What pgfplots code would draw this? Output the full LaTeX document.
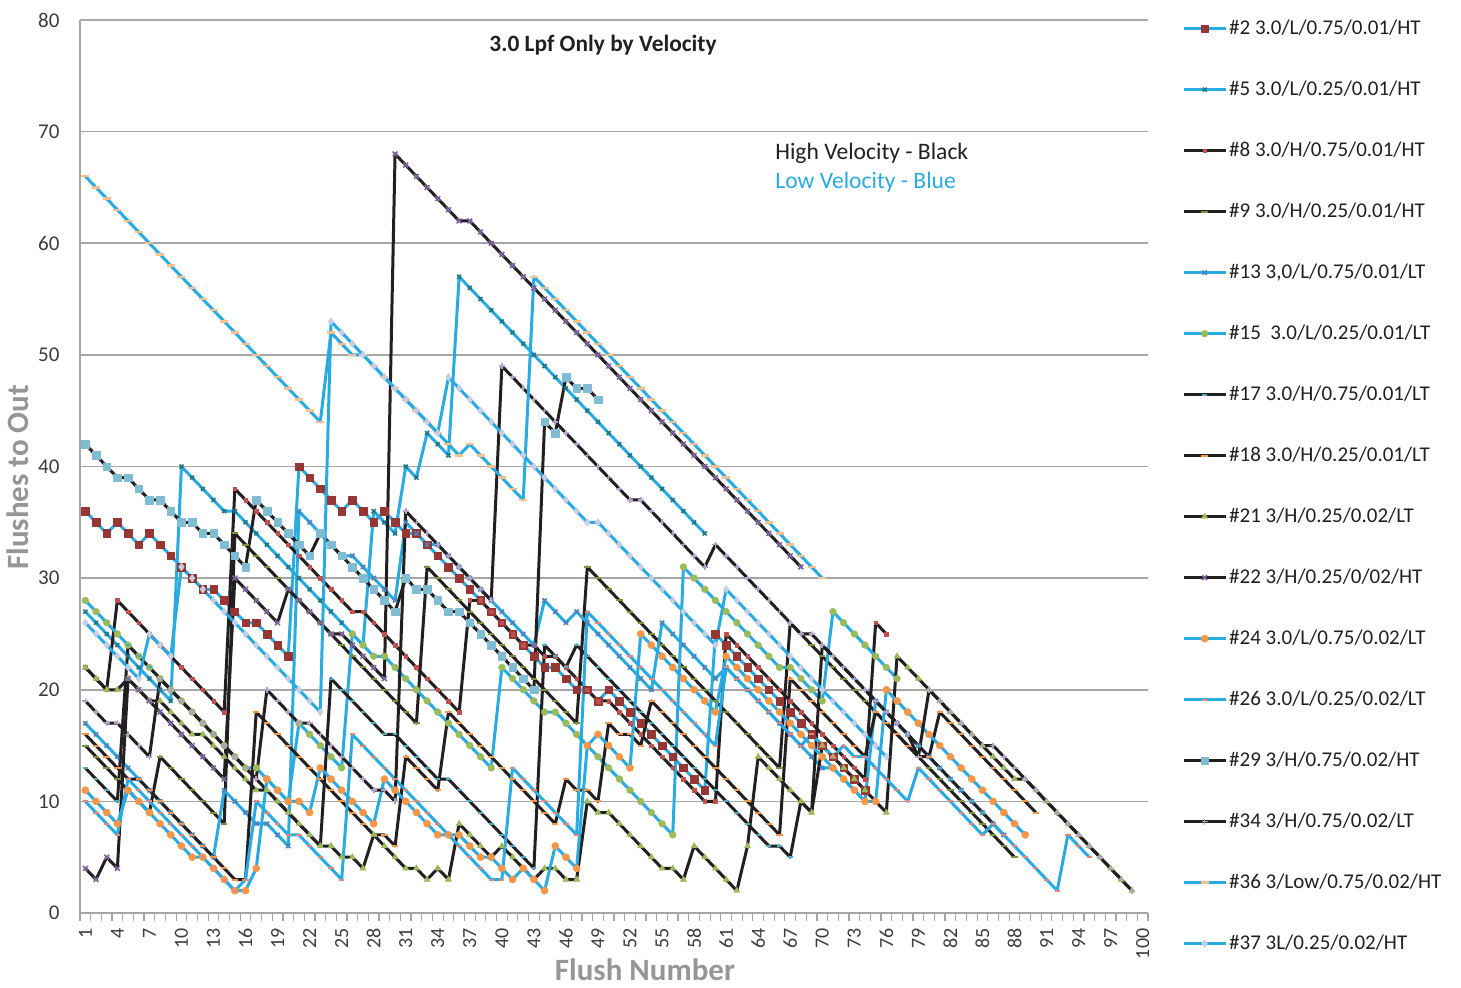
\documentclass[border=0pt]{standalone}
\usepackage{fontspec}
\setmainfont{Carlito}
\usepackage{pgfplots}
\pgfplotsset{compat=1.18}

\definecolor{blueln}{RGB}{41,171,226}
\definecolor{blackln}{RGB}{35,31,32}
\definecolor{gridc}{RGB}{166,166,166}
\definecolor{tickc}{RGB}{60,60,60}
\definecolor{titlec}{RGB}{150,150,150}
\definecolor{mkA}{RGB}{149,55,53}
\definecolor{mkB}{RGB}{33,118,133}
\definecolor{mkC}{RGB}{192,80,77}
\definecolor{mkD}{RGB}{119,147,60}
\definecolor{mkE}{RGB}{79,129,189}
\definecolor{mkF}{RGB}{155,187,89}
\definecolor{mkG}{RGB}{75,172,198}
\definecolor{mkH}{RGB}{247,150,70}
\definecolor{mkI}{RGB}{128,100,162}
\definecolor{mkJ}{RGB}{230,135,125}
\definecolor{mkK}{RGB}{128,189,210}
\definecolor{mkL}{RGB}{179,162,199}
\definecolor{mkM}{RGB}{250,192,144}
\definecolor{mkN}{RGB}{198,206,230}

\pgfplotsset{
  bl/.style={color=blueln, line width=1.5pt, line join=round},
  bk/.style={color=blackln, line width=1.5pt, line join=round},
}

\begin{document}
\begin{tikzpicture}
\useasboundingbox (-40pt,-37pt) rectangle (690.5pt,456.5pt);
\begin{axis}[
  scale only axis, width=534pt, height=446.5pt,
  xmin=0.5, xmax=100.5, ymin=0, ymax=80,
  axis x line*=bottom, axis y line*=left,
  axis line style={-, gridc, line width=0.8pt},
  xtick={1,4,...,100}, minor xtick={0.5,1.5,...,100.5},
  ytick={0,10,...,80},
  ymajorgrids, grid style={gridc, line width=0.8pt},
  major x tick style={draw=none}, ytick style={draw=none},
  minor x tick style={gridc, line width=0.6pt},
  minor tick length=4pt, tick align=outside,
  /pgf/number format/assume math mode=true,
  xticklabel style={rotate=90, anchor=east, font=\fontsize{10}{12}\selectfont, color=tickc},
  yticklabel style={font=\fontsize{10.5}{12}\selectfont, color=tickc, xshift=-2.5pt},
  xlabel={Flush Number},
  xlabel style={at={(axis description cs:0.529,0)}, anchor=center, yshift=-28.5pt,
    font=\bfseries\fontsize{15.5}{18}\selectfont, color=titlec},
  ylabel={Flushes to Out},
  ylabel style={at={(axis description cs:-0.058,0.488)}, anchor=center,
    font=\bfseries\fontsize{15.5}{18}\selectfont, color=titlec},
  legend style={at={(rel axis cs:1.026,1.007)}, anchor=north west, draw=none, fill=none,
    font=\fontsize{10.5}{12}\selectfont, text=blackln, row sep=20pt,
    nodes={inner sep=0pt, text height=8pt, text depth=2.5pt},
    /tikz/every odd column/.style={column sep=1pt}},
  legend cell align=left,
  legend image code/.code={\draw[mark repeat=2, mark phase=2] plot coordinates {(0pt,0pt) (10.5pt,0pt) (21pt,0pt)};},
]

% #2
\addplot[bl, mark=square*, mark size=1.9pt, mark options={fill=mkA, draw=mkA, line width=0.2pt}] coordinates {
(1,36)(2,35)(3,34)(4,35)(5,34)(6,33)(7,34)(8,33)(9,32)(10,31)(11,30)(12,29)(13,29)(14,28)(15,27)(16,26)(17,26)(18,25)(19,24)(20,23)(21,40)(22,39)(23,38)(24,37)(25,36)(26,37)(27,36)(28,35)(29,36)(30,35)(31,34)(32,34)(33,33)(34,32)(35,31)(36,30)(37,29)(38,28)(39,27)(40,26)(41,25)(42,24)(43,23)(44,22)(45,22)(46,21)(47,20)(48,20)(49,19)(50,20)(51,19)(52,18)(53,17)(54,16)(55,15)(56,14)(57,13)(58,12)(59,11)(60,25)(61,24)(62,23)(63,22)(64,21)(65,20)(66,19)(67,18)(68,17)(69,16)(70,15)(71,14)(72,13)(73,12)(74,11)};
\addlegendentry{\#2 3.0/L/0.75/0.01/HT}

% #5
\addplot[bl, mark=x, mark size=1.4pt, mark options={mkB, line width=0.8pt}] coordinates {
(1,27)(2,26)(3,25)(4,24)(5,23)(6,22)(7,21)(8,20)(9,19)(10,40)(11,39)(12,38)(13,37)(14,36)(15,36)(16,35)(17,34)(18,33)(19,32)(20,31)(21,30)(22,29)(23,28)(24,27)(25,26)(26,25)(27,24)(28,36)(29,35)(30,34)(31,40)(32,39)(33,43)(34,42)(35,41)(36,57)(37,56)(38,55)(39,54)(40,53)(41,52)(42,51)(43,50)(44,49)(45,48)(46,47)(47,46)(48,45)(49,44)(50,43)(51,42)(52,41)(53,40)(54,39)(55,38)(56,37)(57,36)(58,35)(59,34)};
\addlegendentry{\#5 3.0/L/0.25/0.01/HT}

% #8
\addplot[bk, mark=square*, mark size=0.9pt, mark options={fill=mkC, draw=mkC, line width=0.2pt}] coordinates {
(1,22)(2,21)(3,20)(4,28)(5,27)(6,26)(7,25)(8,24)(9,23)(10,22)(11,21)(12,20)(13,19)(14,18)(15,38)(16,37)(17,36)(18,35)(19,34)(20,33)(21,32)(22,31)(23,30)(24,29)(25,28)(26,27)(27,27)(28,26)(29,25)(30,24)(31,23)(32,22)(33,21)(34,20)(35,19)(36,18)(37,28)(38,28)(39,27)(40,26)(41,25)(42,24)(43,24)(44,23)(45,23)(46,22)(47,21)(48,20)(49,19)(50,19)(51,18)(52,17)(53,16)(54,15)(55,14)(56,13)(57,12)(58,11)(59,10)(60,10)(61,25)(62,24)(63,23)(64,22)(65,21)(66,20)(67,19)(68,18)(69,17)(70,16)(71,15)(72,14)(73,13)(74,12)(75,26)(76,25)};
\addlegendentry{\#8 3.0/H/0.75/0.01/HT}

% #9
\addplot[bk, mark=-, mark size=1.6pt, mark options={mkD, line width=1pt}] coordinates {
(1,15)(2,14)(3,13)(4,12)(5,11)(6,10)(7,9)(8,14)(9,13)(10,12)(11,11)(12,10)(13,9)(14,8)(15,34)(16,33)(17,32)(18,31)(19,30)(20,29)(21,28)(22,27)(23,26)(24,25)(25,24)(26,23)(27,22)(28,21)(29,20)(30,19)(31,18)(32,17)(33,31)(34,30)(35,29)(36,28)(37,27)(38,26)(39,25)(40,24)(41,23)(42,22)(43,21)(44,20)(45,19)(46,18)(47,17)(48,31)(49,30)(50,29)(51,28)(52,27)(53,26)(54,25)(55,24)(56,23)(57,22)(58,21)(59,20)(60,19)(61,18)(62,17)(63,16)(64,15)(65,14)(66,13)(67,26)(68,25)(69,24)(70,23)(71,22)(72,21)(73,20)(74,19)(75,18)(76,17)(77,16)(78,15)(79,14)(80,13)(81,12)(82,11)(83,10)(84,9)(85,8)(86,7)(87,6)(88,5)};
\addlegendentry{\#9 3.0/H/0.25/0.01/HT}

% #13
\addplot[bl, mark=x, mark size=1.5pt, mark options={mkE, line width=0.8pt}] coordinates {
(1,17)(2,16)(3,15)(4,14)(5,13)(6,12)(7,11)(8,10)(9,9)(10,8)(11,7)(12,6)(13,5)(14,11)(15,10)(16,9)(17,8)(18,8)(19,7)(20,6)(21,36)(22,35)(23,34)(24,33)(25,32)(26,32)(27,31)(28,30)(29,29)(30,28)(31,35)(32,34)(33,33)(34,33)(35,32)(36,31)(37,30)(38,29)(39,28)(40,27)(41,26)(42,25)(43,24)(44,28)(45,27)(46,26)(47,27)(48,26)(49,25)(50,24)(51,23)(52,22)(53,21)(54,20)(55,26)(56,25)(57,24)(58,23)(59,22)(60,21)(61,22)(62,21)(63,20)(64,19)(65,18)(66,17)(67,16)(68,15)(69,14)(70,13)(71,13)(72,12)(73,11)(74,10)(75,19)(76,18)(77,17)(78,16)(79,15)(80,14)(81,13)(82,12)(83,11)(84,10)(85,9)(86,8)(87,7)};
\addlegendentry{\#13 3,0/L/0.75/0.01/LT}

% #15
\addplot[bl, mark=*, mark size=1.7pt, mark options={fill=mkF, draw=mkF, line width=0.2pt}] coordinates {
(1,28)(2,27)(3,26)(4,25)(5,24)(6,23)(7,22)(8,21)(9,20)(10,19)(11,18)(12,17)(13,16)(14,15)(15,14)(16,13)(17,13)(18,12)(19,11)(20,10)(21,17)(22,16)(23,15)(24,14)(25,13)(26,25)(27,24)(28,23)(29,23)(30,22)(31,21)(32,20)(33,19)(34,18)(35,17)(36,16)(37,15)(38,14)(39,13)(40,22)(41,21)(42,20)(43,19)(44,18)(45,18)(46,17)(47,16)(48,15)(49,14)(50,13)(51,12)(52,11)(53,10)(54,9)(55,8)(56,7)(57,31)(58,30)(59,29)(60,28)(61,27)(62,26)(63,25)(64,24)(65,23)(66,22)(67,22)(68,21)(69,20)(70,19)(71,27)(72,26)(73,25)(74,24)(75,23)(76,22)(77,21)};
\addlegendentry{\#15\ \ 3.0/L/0.25/0.01/LT}

% #17
\addplot[bk, mark=-, mark size=1.2pt, mark options={mkG, line width=1pt}] coordinates {
(1,13)(2,12)(3,11)(4,10)(5,24)(6,23)(7,22)(8,21)(9,20)(10,19)(11,18)(12,17)(13,16)(14,15)(15,14)(16,13)(17,12)(18,11)(19,10)(20,9)(21,8)(22,7)(23,6)(24,21)(25,20)(26,19)(27,18)(28,17)(29,16)(30,16)(31,15)(32,14)(33,13)(34,12)(35,12)(36,11)(37,10)(38,9)(39,8)(40,7)(41,6)(42,5)(43,4)(44,24)(45,23)(46,22)(47,24)(48,23)(49,22)(50,21)(51,20)(52,19)(53,18)(54,17)(55,16)(56,15)(57,14)(58,13)(59,12)(60,11)(61,10)(62,9)(63,8)(64,7)(65,6)(66,6)(67,5)(68,10)(69,9)(70,24)(71,23)(72,22)(73,21)(74,20)(75,19)(76,18)(77,17)(78,16)(79,15)(80,14)(81,13)(82,12)(83,11)(84,10)(85,9)(86,8)};
\addlegendentry{\#17 3.0/H/0.75/0.01/LT}

% #18
\addplot[bk, mark=-, mark size=1.6pt, mark options={mkH, line width=1pt}] coordinates {
(1,16)(2,15)(3,14)(4,13)(5,12)(6,12)(7,11)(8,10)(9,9)(10,8)(11,7)(12,6)(13,5)(14,4)(15,3)(16,3)(17,18)(18,17)(19,16)(20,15)(21,14)(22,13)(23,12)(24,11)(25,10)(26,9)(27,8)(28,7)(29,7)(30,6)(31,14)(32,13)(33,12)(34,11)(35,18)(36,17)(37,16)(38,15)(39,14)(40,13)(41,12)(42,11)(43,10)(44,9)(45,8)(46,12)(47,11)(48,11)(49,10)(50,17)(51,16)(52,16)(53,15)(54,19)(55,18)(56,17)(57,16)(58,15)(59,14)(60,13)(61,12)(62,11)(63,10)(64,9)(65,8)(66,7)(67,21)(68,20)(69,19)(70,18)(71,17)(72,16)(73,15)(74,14)(75,18)(76,17)(77,16)(78,15)(79,14)(80,14)(81,18)(82,17)(83,16)(84,15)(85,14)(86,13)(87,12)(88,11)(89,10)(90,9)};
\addlegendentry{\#18 3.0/H/0.25/0.01/LT}

% #21
\addplot[bk, mark=triangle*, mark size=1.8pt, mark options={fill=mkF, draw=mkF, line width=0.2pt}] coordinates {
(1,22)(2,21)(3,20)(4,20)(5,21)(6,20)(7,19)(8,19)(9,18)(10,17)(11,16)(12,16)(13,15)(14,14)(15,13)(16,12)(17,11)(18,11)(19,10)(20,9)(21,8)(22,7)(23,6)(24,6)(25,5)(26,5)(27,4)(28,7)(29,6)(30,5)(31,4)(32,4)(33,3)(34,4)(35,3)(36,8)(37,7)(38,6)(39,5)(40,6)(41,5)(42,4)(43,3)(44,4)(45,4)(46,3)(47,3)(48,10)(49,9)(50,9)(51,8)(52,7)(53,6)(54,5)(55,4)(56,4)(57,3)(58,6)(59,5)(60,4)(61,3)(62,2)(63,6)(64,14)(65,13)(66,12)(67,11)(68,10)(69,9)(70,15)(71,14)(72,13)(73,12)(74,11)(75,10)(76,9)(77,23)(78,22)(79,21)(80,20)(81,19)(82,18)(83,17)(84,16)(85,15)(86,14)(87,13)(88,12)(89,12)(90,11)(91,10)(92,9)(93,8)(94,7)(95,6)(96,5)(97,4)(98,3)(99,2)};
\addlegendentry{\#21 3/H/0.25/0.02/LT}

% #22
\addplot[bk, mark=x, mark size=1.7pt, mark options={mkI, line width=0.8pt}] coordinates {
(1,4)(2,3)(3,5)(4,4)(5,21)(6,20)(7,19)(8,18)(9,17)(10,16)(11,15)(12,14)(13,13)(14,12)(15,30)(16,29)(17,28)(18,27)(19,26)(20,29)(21,28)(22,27)(23,26)(24,25)(25,25)(26,24)(27,23)(28,22)(29,21)(30,68)(31,67)(32,66)(33,65)(34,64)(35,63)(36,62)(37,62)(38,61)(39,60)(40,59)(41,58)(42,57)(43,56)(44,55)(45,54)(46,53)(47,52)(48,51)(49,50)(50,49)(51,48)(52,47)(53,46)(54,45)(55,44)(56,43)(57,42)(58,41)(59,40)(60,39)(61,38)(62,37)(63,36)(64,35)(65,34)(66,33)(67,32)(68,31)};
\addlegendentry{\#22 3/H/0.25/0/02/HT}

% #24
\addplot[bl, mark=*, mark size=1.8pt, mark options={fill=mkH, draw=mkH, line width=0.2pt}] coordinates {
(1,11)(2,10)(3,9)(4,8)(5,11)(6,10)(7,9)(8,8)(9,7)(10,6)(11,5)(12,5)(13,4)(14,3)(15,2)(16,2)(17,4)(18,12)(19,11)(20,10)(21,10)(22,9)(23,13)(24,12)(25,11)(26,10)(27,9)(28,8)(29,12)(30,11)(31,10)(32,9)(33,8)(34,7)(35,7)(36,7)(37,6)(38,5)(39,5)(40,4)(41,3)(42,4)(43,3)(44,2)(45,6)(46,5)(47,4)(48,15)(49,16)(50,15)(51,14)(52,13)(53,25)(54,24)(55,23)(56,22)(57,21)(58,20)(59,19)(60,18)(61,23)(62,22)(63,21)(64,20)(65,19)(66,18)(67,17)(68,16)(69,15)(70,14)(71,13)(72,12)(73,11)(74,10)(75,10)(76,20)(77,19)(78,18)(79,17)(80,16)(81,15)(82,14)(83,13)(84,12)(85,11)(86,10)(87,9)(88,8)(89,7)};
\addlegendentry{\#24 3.0/L/0.75/0.02/LT}

% #26
\addplot[bl, mark=-, mark size=1.3pt, mark options={mkJ, line width=1pt}] coordinates {
(1,10)(2,9)(3,8)(4,7)(5,12)(6,11)(7,10)(8,9)(9,8)(10,7)(11,6)(12,5)(13,4)(14,3)(15,2)(16,3)(17,10)(18,9)(19,8)(20,7)(21,7)(22,6)(23,5)(24,4)(25,3)(26,16)(27,15)(28,14)(29,13)(30,12)(31,11)(32,10)(33,9)(34,8)(35,7)(36,6)(37,5)(38,4)(39,3)(40,3)(41,13)(42,12)(43,11)(44,10)(45,9)(46,8)(47,7)(48,27)(49,26)(50,25)(51,24)(52,23)(53,22)(54,21)(55,20)(56,19)(57,18)(58,17)(59,16)(60,15)(61,22)(62,21)(63,20)(64,19)(65,18)(66,17)(67,16)(68,15)(69,16)(70,15)(71,14)(72,15)(73,14)(74,14)(75,13)(76,12)(77,11)(78,10)(79,13)(80,12)(81,11)(82,10)(83,9)(84,8)(85,7)(86,8)(87,7)(88,6)(89,5)(90,4)(91,3)(92,2)(93,7)(94,6)(95,5)};
\addlegendentry{\#26 3.0/L/0.25/0.02/LT}

% #29
\addplot[bk, mark=square*, mark size=1.9pt, mark options={fill=mkK, draw=mkK, line width=0.2pt}] coordinates {
(1,42)(2,41)(3,40)(4,39)(5,39)(6,38)(7,37)(8,37)(9,36)(10,35)(11,35)(12,34)(13,34)(14,33)(15,32)(16,31)(17,37)(18,36)(19,35)(20,34)(21,33)(22,32)(23,34)(24,33)(25,32)(26,31)(27,30)(28,29)(29,28)(30,27)(31,30)(32,29)(33,29)(34,28)(35,27)(36,27)(37,26)(38,25)(39,24)(40,23)(41,22)(42,21)(43,20)(44,44)(45,43)(46,48)(47,47)(48,47)(49,46)};
\addlegendentry{\#29 3/H/0.75/0.02/HT}

% #34
\addplot[bk, mark=+, mark size=1.5pt, mark options={mkL, line width=0.8pt}] coordinates {
(1,19)(2,18)(3,17)(4,17)(5,16)(6,15)(7,14)(8,21)(9,20)(10,19)(11,18)(12,17)(13,16)(14,15)(15,14)(16,13)(17,12)(18,20)(19,19)(20,18)(21,17)(22,17)(23,16)(24,15)(25,14)(26,13)(27,12)(28,11)(29,11)(30,10)(31,36)(32,35)(33,34)(34,33)(35,32)(36,31)(37,30)(38,29)(39,28)(40,49)(41,48)(42,47)(43,46)(44,45)(45,44)(46,43)(47,42)(48,41)(49,40)(50,39)(51,38)(52,37)(53,37)(54,36)(55,35)(56,34)(57,33)(58,32)(59,31)(60,33)(61,32)(62,31)(63,30)(64,29)(65,28)(66,27)(67,26)(68,25)(69,25)(70,24)(71,23)(72,22)(73,21)(74,20)(75,19)(76,18)(77,17)(78,16)(79,14)(80,20)(81,19)(82,18)(83,17)(84,16)(85,15)(86,15)(87,14)(88,13)(89,12)(90,11)(91,10)(92,9)(93,8)(94,7)(95,6)(96,5)(97,4)(98,3)(99,2)};
\addlegendentry{\#34 3/H/0.75/0.02/LT}

% #36
\addplot[bl, mark=-, mark size=2pt, mark options={mkM, line width=1.2pt}] coordinates {
(1,66)(2,65)(3,64)(4,63)(5,62)(6,61)(7,60)(8,59)(9,58)(10,57)(11,56)(12,55)(13,54)(14,53)(15,52)(16,51)(17,50)(18,49)(19,48)(20,47)(21,46)(22,45)(23,44)(24,52)(25,51)(26,50)(27,50)(28,49)(29,48)(30,47)(31,46)(32,45)(33,44)(34,43)(35,42)(36,41)(37,42)(38,41)(39,40)(40,39)(41,38)(42,37)(43,57)(44,56)(45,55)(46,54)(47,53)(48,52)(49,51)(50,50)(51,49)(52,48)(53,47)(54,46)(55,45)(56,44)(57,43)(58,42)(59,41)(60,40)(61,39)(62,38)(63,37)(64,36)(65,35)(66,34)(67,33)(68,32)(69,31)(70,30)};
\addlegendentry{\#36 3/Low/0.75/0.02/HT}

% #37
\addplot[bl, mark=diamond*, mark size=1.9pt, mark options={fill=mkN, draw=mkN, line width=0.2pt}] coordinates {
(1,26)(2,25)(3,24)(4,23)(5,22)(6,21)(7,25)(8,24)(9,23)(10,31)(11,30)(12,29)(13,28)(14,27)(15,26)(16,25)(17,24)(18,23)(19,22)(20,21)(21,20)(22,19)(23,18)(24,53)(25,52)(26,51)(27,50)(28,49)(29,48)(30,47)(31,46)(32,45)(33,44)(34,43)(35,48)(36,47)(37,46)(38,45)(39,44)(40,43)(41,42)(42,41)(43,40)(44,39)(45,38)(46,37)(47,36)(48,35)(49,35)(50,34)(51,33)(52,32)(53,31)(54,30)(55,29)(56,28)(57,27)(58,26)(59,25)(60,24)(61,29)(62,28)(63,27)(64,26)(65,25)(66,24)(67,23)(68,22)(69,21)(70,20)(71,19)(72,18)(73,17)(74,16)(75,15)(76,14)};
\addlegendentry{\#37 3L/0.25/0.02/HT}

\node[font=\bfseries\fontsize{11.7}{13}\selectfont, text=blackln] at (rel axis cs:0.4897,0.972) {3.0 Lpf Only by Velocity};
\node[anchor=west, inner sep=0pt, font=\fontsize{11.8}{13}\selectfont, text=blackln] at (rel axis cs:0.6507,0.851) {High Velocity - Black};
\node[anchor=west, inner sep=0pt, font=\fontsize{11.8}{13}\selectfont, text=blueln] at (rel axis cs:0.6507,0.8186) {Low Velocity - Blue};
\end{axis}
\end{tikzpicture}
\end{document}
